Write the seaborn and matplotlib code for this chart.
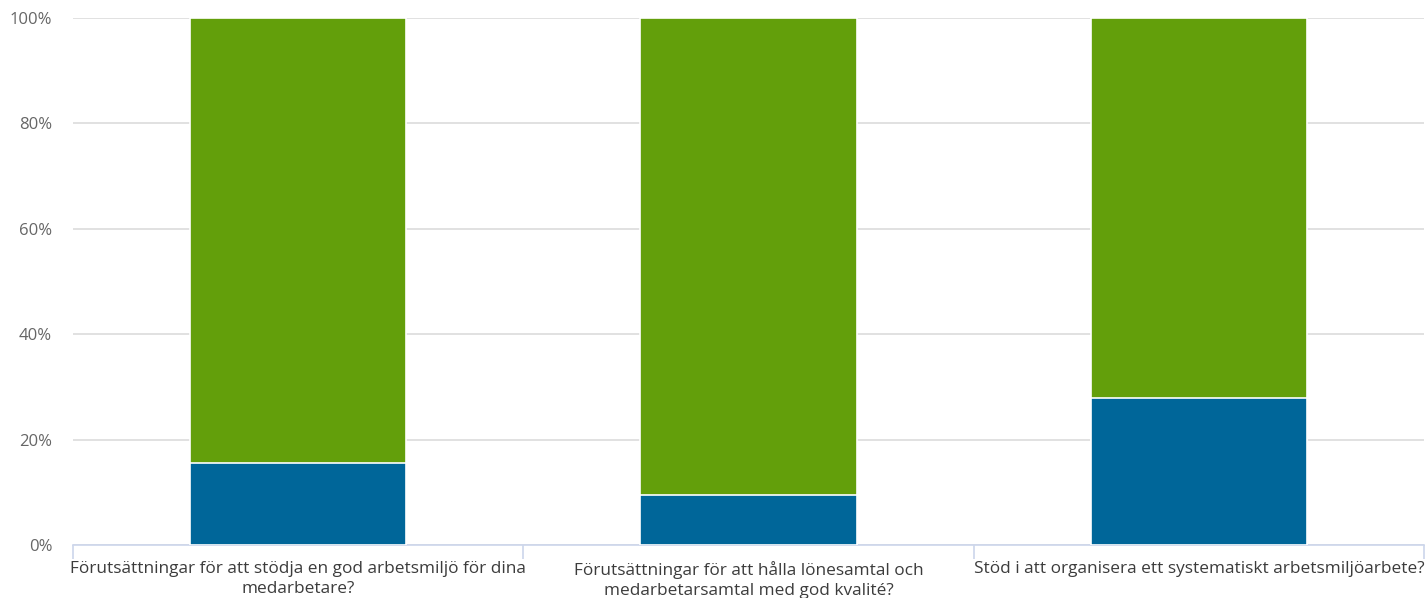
import matplotlib
matplotlib.use("Agg")
import matplotlib.pyplot as plt
import seaborn as sns
import pandas as pd
from matplotlib.ticker import FuncFormatter, FixedLocator

categories = [
    "Förutsättningar för att stödja en god arbetsmiljö för dina\nmedarbetare?",
    "Förutsättningar för att hålla lönesamtal och\nmedarbetarsamtal med god kvalité?",
    "Stöd i att organisera ett systematiskt arbetsmiljöarbete?",
]
blue_values = [15.6, 9.4, 27.9]
green_values = [84.4, 90.6, 72.1]
y_ticks = [0, 20, 40, 60, 80, 100]

sns.set_theme(style="white")
plt.rcParams['font.family'] = ['Open Sans', 'DejaVu Sans']

df = pd.DataFrame({
    "cat": categories,
    "blue": blue_values,
    "top": [b + g for b, g in zip(blue_values, green_values)],
})

fig = plt.figure(figsize=(14.26, 5.98), dpi=100)
ax = fig.add_axes([73 / 1426, 1 - 545 / 598, (1424 - 73) / 1426, (545 - 18) / 598])

sns.barplot(data=df, x="cat", y="top", color="#639f0b", saturation=1, width=0.48,
            edgecolor="white", linewidth=1.2, ax=ax, zorder=2)
sns.barplot(data=df, x="cat", y="blue", color="#006699", saturation=1, width=0.48,
            edgecolor="white", linewidth=1.2, ax=ax, zorder=3)

ax.set_xlim(-0.5, 2.5)
ax.set_ylim(0, 100)
ax.set_xlabel("")
ax.set_ylabel("")
ax.yaxis.set_major_locator(FixedLocator(y_ticks))
ax.yaxis.set_major_formatter(FuncFormatter(lambda v, p: f"{int(v)}%"))
ax.grid(axis="y", color="#dcdcdc", linewidth=1.2, zorder=0)
ax.set_axisbelow(True)
for s in ["top", "right", "left"]:
    ax.spines[s].set_visible(False)
ax.spines["bottom"].set_color("#ccd6eb")
ax.spines["bottom"].set_linewidth(1.2)

# category labels centered, ticks at category boundaries
ax.set_xticks([0, 1, 2])
ax.set_xticklabels(categories, fontsize=12.4, color="#3c3c3c", linespacing=1.35)
ax.tick_params(axis="x", which="major", length=0, pad=11.5)
ax.set_xticks([-0.5, 0.5, 1.5, 2.5], minor=True)
ax.tick_params(axis="x", which="minor", bottom=True, length=10, width=1.2,
               color="#ccd6eb", direction="out")
ax.tick_params(axis="y", length=0, pad=15, labelsize=12, labelcolor="#666666")

fig.savefig("out.png", dpi=100)
